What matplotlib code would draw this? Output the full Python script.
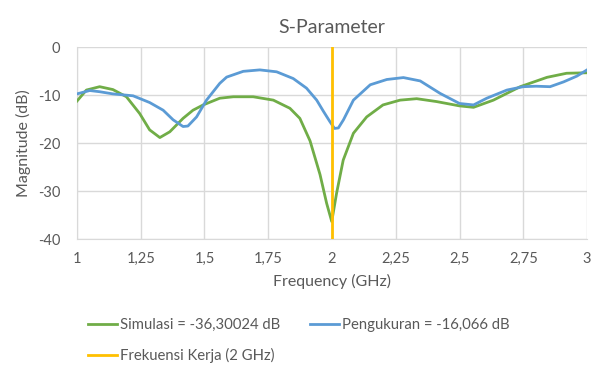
import numpy as np
import matplotlib
matplotlib.use("Agg")
import matplotlib.pyplot as plt
from matplotlib.ticker import MultipleLocator, FuncFormatter

plt.rcParams['font.family'] = ['Lato', 'DejaVu Sans']
plt.rcParams['axes.unicode_minus'] = False

# data
sim_freq = [1.0, 1.037, 1.089, 1.141, 1.194, 1.246, 1.285, 1.325, 1.364, 1.416, 1.455,
            1.495, 1.56, 1.613, 1.691, 1.77, 1.835, 1.874, 1.914, 1.953, 1.979, 1.999,
            2.018, 2.044, 2.084, 2.136, 2.2, 2.267, 2.332, 2.41, 2.5, 2.555, 2.633,
            2.738, 2.843, 2.92, 3.0]
sim_db = [-11.2, -8.9, -8.2, -8.8, -10.3, -13.8, -17.2, -18.8, -17.6, -14.8, -13.1,
          -12.0, -10.6, -10.3, -10.3, -11.0, -12.7, -14.8, -19.5, -26.5, -32.5, -36.3,
          -30.4, -23.5, -17.9, -14.5, -12.0, -11.0, -10.7, -11.3, -12.2, -12.5, -11.0,
          -8.2, -6.25, -5.4, -5.3]

meas_freq = [1.0, 1.05, 1.089, 1.141, 1.22, 1.285, 1.338, 1.377, 1.416, 1.435, 1.469,
             1.508, 1.56, 1.587, 1.652, 1.717, 1.783, 1.848, 1.9, 1.94, 1.966, 1.992,
             2.01, 2.025, 2.045, 2.084, 2.15, 2.215, 2.28, 2.346, 2.424, 2.5, 2.555,
             2.607, 2.686, 2.75, 2.8, 2.855, 2.908, 2.96, 3.0]
meas_db = [-9.7, -9.0, -9.25, -9.7, -10.1, -11.5, -13.1, -15.1, -16.5, -16.4, -14.5,
           -11.0, -7.5, -6.2, -5.0, -4.7, -5.1, -6.5, -8.5, -11.0, -13.3, -15.5,
           -16.9, -16.8, -15.1, -11.0, -7.8, -6.7, -6.3, -7.0, -9.6, -11.7, -12.0,
           -10.6, -8.9, -8.2, -8.1, -8.2, -7.2, -6.0, -4.7]

work_freq = 2.0
x_ticks = [1, 1.25, 1.5, 1.75, 2, 2.25, 2.5, 2.75, 3]

label_sim = 'Simulasi = -36,30024 dB'
label_meas = 'Pengukuran = -16,066 dB'
label_work = 'Frekuensi Kerja (2 GHz)'

GREEN = '#70AD47'
BLUE = '#5B9BD5'
YELLOW = '#FFC000'
TEXT = '#595959'
GRID = '#D9D9D9'

fig = plt.figure(figsize=(5.92, 3.67), dpi=100)
ax = fig.add_axes([0.130, 0.348, 0.8616, 0.523])

l_sim, = ax.plot(sim_freq, sim_db, color=GREEN, lw=2, label=label_sim, zorder=3,
                 solid_joinstyle='round')
l_meas, = ax.plot(meas_freq, meas_db, color=BLUE, lw=2, label=label_meas, zorder=3,
                  solid_joinstyle='round')
l_work = ax.axvline(work_freq, color=YELLOW, lw=2, label=label_work, zorder=4)

ax.set_xlim(1, 3)
ax.set_ylim(-40, 0)
ax.set_xticks(x_ticks)
ax.xaxis.set_major_formatter(FuncFormatter(lambda v, p: ('%g' % v).replace('.', ',')))
ax.yaxis.set_major_locator(MultipleLocator(10))

ax.grid(True, color=GRID, lw=1, zorder=0)
for s in ['top', 'right']:
    ax.spines[s].set_visible(False)
for s in ['bottom', 'left']:
    ax.spines[s].set_color(GRID)
ax.tick_params(length=0, colors=TEXT, labelsize=10.5)
ax.tick_params(axis='x', pad=9)
ax.tick_params(axis='y', pad=12)

ax.set_title('S-Parameter', color=TEXT, fontsize=14, pad=10)
ax.set_xlabel('Frequency (GHz)', color=TEXT, fontsize=11.5, labelpad=6)
ax.set_ylabel('Magnitude (dB)', color=TEXT, fontsize=11.5, labelpad=5)

fig.legend([l_sim, l_work, l_meas], [label_sim, label_work, label_meas],
           ncol=2, loc='upper left', bbox_to_anchor=(0.149, 0.1335), frameon=False,
           fontsize=10.7, labelcolor=TEXT, handlelength=1.95, handletextpad=0.2,
           columnspacing=2.0, labelspacing=1.07, borderaxespad=0, borderpad=0)

fig.savefig('out.png', dpi=100)
